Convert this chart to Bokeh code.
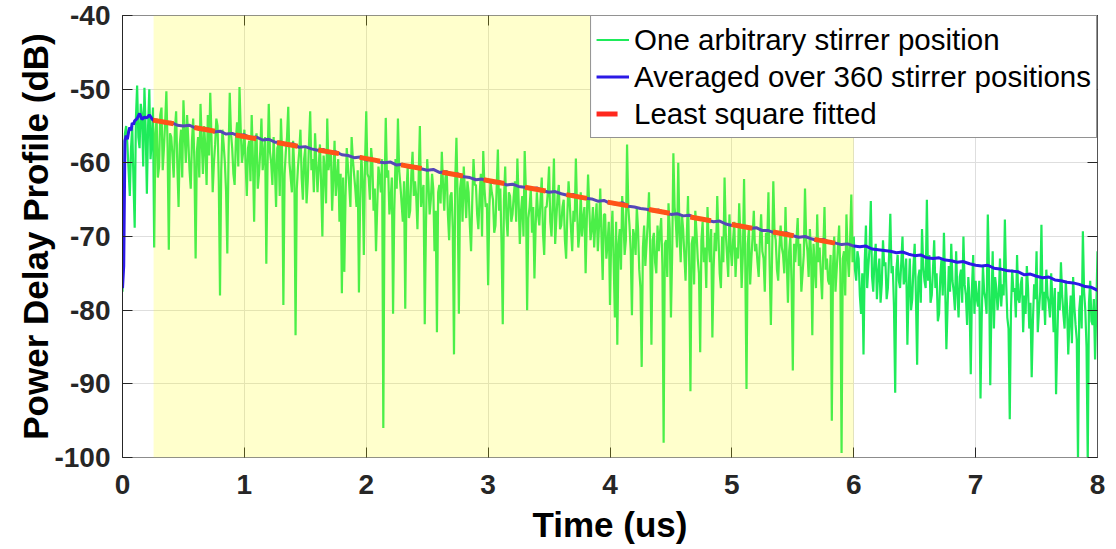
import numpy as np
from bokeh.plotting import figure
from bokeh.models import (BoxAnnotation, LinearAxis, FixedTicker, Legend, LegendItem)
from bokeh.embed import file_html
from bokeh.resources import INLINE

# ---- data -------------------------------------------------------------
# PDP for a single stirrer position, sampled every 0.01 us from t = 0
green_db = [
    -77.5, -66.0, -56.0, -55.0, -57.5, -61.0, -64.5, -58.0, -55.0, -62.5, -68.8, -54.0, -49.5, -56.5, -58.0, -52.0, -53.5, -60.5, -49.8, -55.5,
    -64.2, -55.0, -50.0, -59.5, -57.0, -52.5, -71.5, -56.0, -54.0, -62.0, -60.5, -53.5, -52.5, -61.0, -58.0, -54.5, -50.3, -58.0, -71.8, -56.0,
    -56.5, -59.0, -62.0, -55.5, -53.0, -60.5, -66.0, -57.5, -55.5, -62.0, -51.5, -56.0, -60.0, -53.5, -57.0, -61.0, -63.5, -57.0, -54.0, -60.0,
    -73.0, -58.5, -56.5, -62.0, -52.0, -57.0, -61.5, -55.0, -58.0, -63.0, -53.5, -59.0, -50.5, -56.5, -64.0, -60.0, -57.5, -54.0, -55.0, -62.5,
    -78.0, -61.0, -55.5, -57.5, -60.0, -64.0, -72.3, -59.0, -50.5, -56.0, -58.0, -61.5, -63.0, -57.0, -54.5, -60.5, -49.7, -55.5, -60.0, -58.5,
    -55.5, -60.0, -64.5, -58.0, -57.0, -62.5, -53.5, -59.5, -68.0, -57.0, -56.0, -63.5, -61.5, -58.5, -54.0, -61.0, -59.0, -56.5, -73.7, -60.5,
    -52.0, -58.5, -60.0, -63.0, -56.5, -60.5, -66.0, -58.0, -57.5, -64.5, -54.0, -59.0, -79.3, -61.5, -58.5, -56.5, -52.4, -60.0, -62.0, -64.0,
    -57.0, -61.0, -83.4, -63.5, -60.5, -58.5, -55.5, -62.0, -65.0, -59.5, -58.0, -65.5, -62.5, -57.5, -53.0, -61.0, -59.5, -64.0, -56.0, -60.0,
    -64.0, -60.5, -57.5, -63.0, -70.0, -59.0, -61.0, -65.5, -54.0, -61.0, -59.5, -58.5, -66.5, -62.0, -57.0, -64.5, -62.0, -59.5, -68.0, -61.5,
    -77.7, -62.0, -74.8, -64.5, -58.0, -60.5, -63.0, -66.0, -56.5, -59.5, -61.5, -63.5, -66.0, -61.0, -77.6, -65.0, -59.0, -62.5, -72.5, -60.0,
    -53.0, -61.5, -62.0, -65.0, -58.0, -60.0, -66.5, -63.5, -72.0, -66.0, -60.5, -62.0, -64.0, -59.5, -96.0, -64.5, -53.9, -62.0, -61.0, -67.0,
    -65.0, -62.0, -80.5, -66.5, -59.5, -63.5, -54.0, -61.0, -63.0, -65.5, -68.0, -62.5, -79.8, -64.0, -60.5, -67.5, -66.5, -61.5, -58.5, -64.5,
    -62.5, -64.5, -69.0, -62.0, -55.0, -66.0, -64.0, -63.0, -81.9, -68.5, -59.5, -62.5, -67.0, -65.0, -61.5, -63.5, -72.0, -66.5, -83.0, -64.0,
    -63.0, -65.5, -58.5, -63.0, -66.5, -62.0, -61.0, -67.0, -70.5, -64.5, -64.0, -69.0, -86.0, -62.5, -56.6, -65.0, -80.5, -63.5, -62.0, -68.0,
    -60.5, -64.0, -67.5, -62.5, -64.0, -68.5, -72.0, -65.0, -59.5, -63.0, -63.0, -67.0, -69.0, -64.5, -61.5, -70.0, -58.4, -63.5, -66.0, -65.5,
    -76.6, -66.0, -62.5, -64.0, -65.0, -69.5, -68.5, -63.5, -58.2, -66.5, -63.5, -71.0, -81.9, -65.0, -60.5, -67.5, -70.0, -64.0, -64.5, -68.0,
    -67.0, -64.5, -62.5, -68.0, -59.4, -65.0, -71.0, -66.5, -64.5, -70.0, -58.4, -64.0, -80.0, -67.5, -66.0, -63.5, -69.5, -66.0, -75.7, -68.5,
    -64.0, -67.0, -68.5, -65.0, -62.0, -69.5, -72.5, -66.0, -66.0, -64.0, -60.5, -68.0, -70.0, -65.5, -59.4, -71.0, -67.5, -64.5, -63.0, -69.0,
    -68.5, -66.0, -65.0, -70.5, -73.0, -67.0, -62.5, -65.5, -69.0, -72.0, -66.5, -68.0, -59.4, -66.5, -71.5, -69.5, -64.0, -70.0, -67.5, -66.0,
    -75.0, -67.5, -61.6, -66.0, -70.5, -69.0, -66.0, -71.5, -68.0, -65.5, -72.0, -68.5, -63.5, -70.0, -75.9, -67.0, -67.0, -73.0, -71.0, -68.0,
    -79.3, -70.0, -66.5, -73.5, -81.0, -68.0, -84.7, -71.0, -69.0, -74.5, -64.5, -67.5, -72.5, -70.5, -57.5, -66.0, -68.5, -72.0, -80.7, -69.0,
    -70.0, -72.5, -66.0, -69.0, -74.5, -77.0, -87.7, -71.5, -68.5, -74.0, -71.0, -68.0, -64.0, -72.0, -84.7, -70.5, -69.5, -73.5, -75.0, -68.5,
    -72.0, -69.5, -67.5, -74.0, -98.0, -71.0, -70.5, -75.5, -65.5, -69.0, -81.0, -72.5, -58.7, -66.0, -68.0, -71.5, -60.0, -69.5, -73.5, -67.0,
    -69.0, -72.5, -76.0, -70.0, -64.5, -74.0, -91.0, -71.0, -70.0, -76.5, -66.5, -69.5, -73.0, -75.0, -85.7, -70.5, -68.0, -73.5, -71.5, -77.0,
    -66.0, -71.0, -73.5, -69.0, -83.7, -74.5, -69.5, -72.0, -64.5, -70.0, -75.0, -77.0, -70.0, -73.5, -62.0, -69.5, -72.5, -75.5, -67.0, -71.5,
    -74.0, -70.5, -68.0, -75.5, -71.5, -73.0, -65.5, -70.0, -77.0, -72.5, -62.2, -74.0, -90.7, -71.0, -69.0, -76.5, -73.0, -70.0, -66.5, -72.0,
    -71.0, -73.5, -75.5, -70.5, -67.0, -72.0, -73.0, -77.5, -69.5, -71.0, -64.0, -74.0, -82.0, -72.5, -62.5, -69.5, -70.5, -74.5, -76.0, -71.5,
    -68.5, -71.5, -72.5, -75.0, -66.0, -73.0, -79.0, -72.0, -70.0, -76.5, -88.2, -71.0, -73.5, -70.5, -67.5, -74.0, -71.0, -77.5, -75.0, -72.5,
    -63.5, -70.5, -72.0, -75.5, -69.0, -72.5, -83.4, -71.0, -74.0, -77.0, -67.0, -73.5, -71.5, -75.0, -78.5, -72.0, -66.0, -74.5, -73.0, -76.0,
    -76.5, -72.5, -95.0, -74.0, -70.0, -77.5, -74.5, -71.5, -68.5, -75.0, -99.4, -73.0, -72.0, -78.0, -67.0, -72.5, -75.5, -70.5, -64.3, -73.5,
    -70.0, -74.5, -76.0, -72.0, -73.0, -78.0, -80.5, -75.0, -86.0, -73.5, -68.5, -77.0, -74.0, -71.5, -65.2, -75.5, -77.5, -73.0, -71.0, -78.5,
    -75.0, -73.0, -79.0, -76.5, -70.5, -74.0, -73.5, -78.5, -77.0, -72.5, -66.9, -75.0, -74.0, -79.5, -91.2, -74.5, -72.5, -76.0, -77.0, -73.5,
    -70.0, -76.5, -75.5, -73.0, -84.7, -77.5, -73.0, -80.0, -78.5, -74.0, -71.0, -78.0, -87.4, -75.5, -74.5, -79.0, -69.0, -74.0, -76.0, -77.0,
    -65.0, -76.0, -72.5, -79.0, -78.0, -74.5, -70.5, -77.0, -75.0, -81.5, -80.5, -75.5, -73.0, -78.0, -69.5, -76.5, -85.3, -79.5, -74.0, -77.5,
    -71.0, -76.0, -77.5, -80.0, -72.0, -77.5, -81.0, -75.5, -74.5, -79.0, -70.0, -76.5, -78.0, -82.0, -75.5, -78.5, -88.7, -77.0, -72.5, -80.5,
    -76.0, -78.5, -79.5, -76.0, -92.0, -81.0, -74.0, -77.5, -78.5, -80.5, -67.0, -75.0, -90.2, -79.0, -72.0, -82.5, -75.5, -77.0, -80.0, -78.0,
    -73.0, -79.5, -76.5, -78.0, -67.7, -76.0, -81.0, -82.5, -94.8, -80.0, -74.5, -77.5, -77.0, -81.0, -72.5, -78.5, -79.0, -76.5, -75.5, -83.0,
    -78.0, -80.5, -74.0, -77.0, -82.5, -79.0, -89.1, -81.5, -76.5, -78.5, -72.0, -83.0, -80.0, -77.5, -68.4, -80.0, -77.5, -82.0, -74.5, -78.0,
    -79.0, -81.0, -75.0, -78.5, -83.0, -77.0, -91.4, -84.0, -77.5, -80.0, -73.5, -78.0, -80.5, -82.5, -76.0, -79.5, -86.0, -81.5, -78.0, -84.5,
    -75.5, -79.5, -82.0, -84.0, -100.5, -80.0, -78.0, -82.5, -69.3, -77.5, -80.0, -85.0, -100.5, -79.0, -76.0, -81.5, -82.0, -78.5, -86.7, -80.0,
    -72.0,
]
green_t = np.round(np.arange(len(green_db)) * 0.01, 2)

# PDP averaged over 360 stirrer positions
blue_t_head = [0.0, 0.01, 0.02, 0.03, 0.04, 0.05, 0.06, 0.07, 0.08, 0.09,
               0.10, 0.12, 0.14, 0.16, 0.18, 0.20, 0.22, 0.25]
blue_db_head = [-77.0, -74.0, -57.0, -56.3, -56.8, -55.8, -55.2, -55.6, -54.6, -54.8,
                -54.3, -54.0, -53.3, -54.1, -53.8, -53.9, -53.5, -54.2]
blue_db_tail = [  # 0.30 ... 8.00 us, every 0.05 us
    -54.3, -54.6, -54.5, -54.9, -55.0, -54.9, -55.3, -55.5, -55.4, -55.8,
    -55.7, -56.1, -56.0, -56.3, -56.2, -56.6, -56.5, -56.9, -56.8, -57.2,
    -57.2, -57.6, -57.4, -57.9, -57.8, -58.1, -58.3, -58.2, -58.6, -58.5,
    -58.9, -59.0, -59.3, -59.2, -59.6, -59.5, -59.9, -60.0, -59.9, -60.3,
    -60.2, -60.6, -60.5, -60.8, -61.0, -60.9, -61.3, -61.2, -61.6, -61.5,
    -61.9, -62.0, -62.3, -62.2, -62.5, -62.7, -62.6, -63.0, -62.9, -63.2,
    -63.3, -63.5, -63.4, -63.8, -64.0, -63.9, -64.2, -64.4, -64.3, -64.7,
    -64.8, -64.9, -65.2, -65.1, -65.5, -65.6, -65.4, -65.9, -66.0, -66.2,
    -66.3, -66.5, -66.4, -66.8, -67.0, -66.9, -67.2, -67.1, -67.5, -67.6,
    -67.8, -68.0, -67.9, -68.3, -68.5, -68.4, -68.7, -68.9, -68.8, -69.2,
    -69.2, -69.5, -69.6, -69.5, -69.9, -70.1, -70.0, -70.3, -70.5, -70.4,
    -70.8, -70.9, -71.1, -71.0, -71.3, -71.4, -71.3, -71.7, -71.8, -71.9,
    -72.0, -72.2, -72.1, -72.4, -72.6, -72.5, -72.9, -73.0, -72.9, -73.2,
    -73.3, -73.5, -73.4, -73.7, -73.9, -74.0, -73.9, -74.3, -74.4, -74.6,
    -74.7, -74.8, -75.2, -75.1, -75.4, -75.6, -75.5, -75.9, -76.0, -76.2,
    -76.3, -76.5, -76.8, -76.9, -77.3,
]
blue_t = blue_t_head + list(np.round(0.30 + np.arange(len(blue_db_tail)) * 0.05, 2))
blue_db = blue_db_head + blue_db_tail

# least-square fitted decay over the fitting window
fit_t = [0.25, 5.98]
fit_db = [-54.2, -71.3]

# time window used for the fit (shaded)
fit_window = [0.255, 6.0]

x_ticks = [0, 1, 2, 3, 4, 5, 6, 7, 8]
x_tick_labels = ["0", "1", "2", "3", "4", "5", "6", "7", "8"]
y_ticks = [-100, -90, -80, -70, -60, -50, -40]
y_tick_labels = ["-100", "-90", "-80", "-70", "-60", "-50", "-40"]

# ---- figure -----------------------------------------------------------
FONT = "Liberation Sans"
TXT = "#262626"

p = figure(width=1116, height=549, x_range=(0, 8), y_range=(-100, -40),
           output_backend="svg", toolbar_location=None,
           min_border_left=122, min_border_right=19,
           min_border_top=15, min_border_bottom=92)
p.background_fill_color = "white"
p.border_fill_color = "white"
p.outline_line_color = "#8c8c8c"
p.outline_line_width = 1

r_green = p.line(green_t, green_db, line_color="#1EEB5A", line_width=2.2)
r_blue = p.line(blue_t, blue_db, line_color="#2B19E6", line_width=3)
r_fit = p.line(fit_t, fit_db, line_color="#FF281E", line_width=5, line_dash="21 21")

for ax, ticks, labels in ((p.xaxis[0], x_ticks, x_tick_labels),
                          (p.yaxis[0], y_ticks, y_tick_labels)):
    ax.ticker = FixedTicker(ticks=ticks)
    ax.major_label_overrides = dict(zip(ticks, labels))
    ax.major_tick_in = 10
    ax.major_tick_out = 0
    ax.minor_tick_line_color = None
    ax.major_tick_line_color = TXT
    ax.major_label_text_font = FONT
    ax.major_label_text_font_style = "bold"
    ax.major_label_text_font_size = "28px"
    ax.major_label_text_color = TXT
    ax.axis_label_text_font = FONT
    ax.axis_label_text_font_style = "bold"
    ax.axis_label_text_font_size = "35px"
    ax.axis_label_text_color = "#000000"

p.xaxis.axis_label = "Time (us)"
p.yaxis.axis_label = "Power Delay Profile (dB)"
p.xaxis.axis_line_color = "#8c8c8c"
p.yaxis.axis_line_color = TXT
p.xaxis.major_label_standoff = 17
p.yaxis.major_label_standoff = 12
p.xaxis.axis_label_standoff = 8
p.yaxis.axis_label_standoff = -4

# box-style ticks on the top and right edges
top = LinearAxis(ticker=FixedTicker(ticks=x_ticks), major_tick_in=10, major_tick_out=0,
                 minor_tick_line_color=None, major_tick_line_color=TXT,
                 axis_line_color="#8c8c8c", major_label_standoff=0,
                 major_label_overrides={t: "" for t in x_ticks})
right = LinearAxis(ticker=FixedTicker(ticks=y_ticks), major_tick_in=10, major_tick_out=0,
                   minor_tick_line_color=None, major_tick_line_color=TXT,
                   axis_line_color="#555555", major_label_standoff=0,
                   major_label_overrides={t: "" for t in y_ticks})
p.add_layout(top, "above")
p.add_layout(right, "right")

p.xgrid.ticker = FixedTicker(ticks=x_ticks)
p.ygrid.ticker = FixedTicker(ticks=y_ticks)
p.xgrid.grid_line_color = "#dedede"
p.ygrid.grid_line_color = "#dedede"

legend = Legend(items=[
    LegendItem(label="One arbitrary stirrer position", renderers=[r_green]),
    LegendItem(label="Averaged over 360 stirrer positions", renderers=[r_blue]),
    LegendItem(label="Least square fitted", renderers=[r_fit]),
], location="top_right")
legend.margin = 0
legend.padding = 5
legend.spacing = 0
legend.glyph_width = 33
legend.glyph_height = 37
legend.label_height = 37
legend.label_standoff = 5
legend.label_text_font = FONT
legend.label_text_font_size = "29.5px"
legend.label_text_color = "#000000"
legend.border_line_color = TXT
legend.border_line_width = 1
legend.background_fill_color = "white"
legend.background_fill_alpha = 1.0
p.add_layout(legend)

# translucent highlight of the fitting window, drawn over everything
p.add_layout(BoxAnnotation(left=fit_window[0], right=fit_window[1],
                           fill_color="#FFFF00", fill_alpha=0.2,
                           line_alpha=0, level="overlay"))

open("out.html", "w").write(file_html(p, INLINE))
